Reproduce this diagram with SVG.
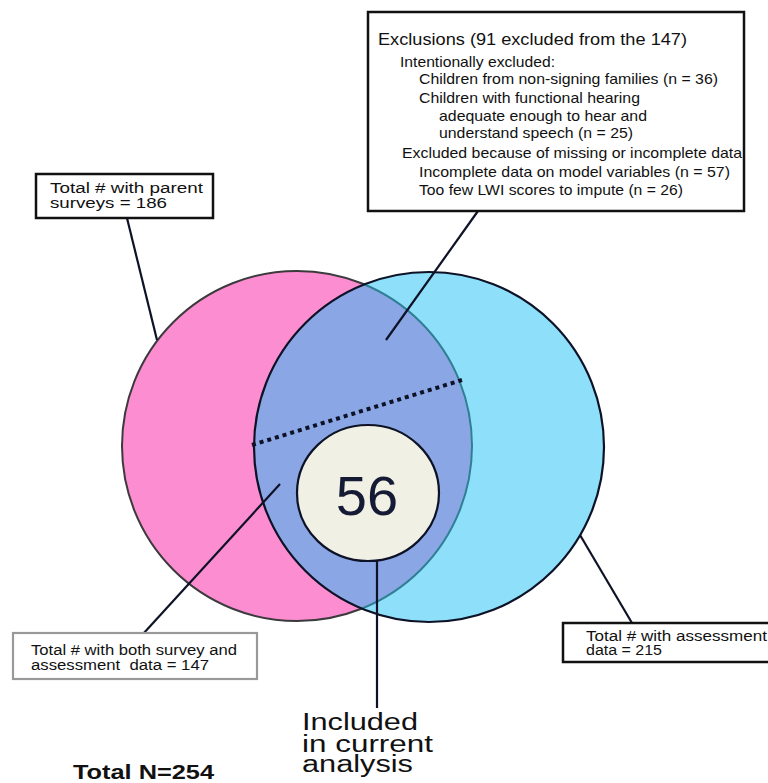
<svg xmlns="http://www.w3.org/2000/svg" width="768" height="783" viewBox="0 0 768 783">
<style>
.t{font-family:"Liberation Sans",Arial,sans-serif;fill:#111;}
.box{fill:#fff;stroke:#111;stroke-width:2.5;}
.conn{stroke:#0d1226;stroke-width:2.2;fill:none;}
</style>
<defs>
<clipPath id="blueClip"><circle cx="429" cy="447" r="175"/></clipPath>
</defs>
<rect width="768" height="783" fill="#fff"/>
<g id="venn">
<circle id="pink" cx="297" cy="446" r="175" fill="#fb8dd0" stroke="#3d3a3e" stroke-width="2"/>
<circle id="blue" cx="429" cy="447" r="175" fill="#8edff9"/>
<circle id="overlap" cx="297" cy="446" r="175" fill="#8aa6e4" stroke="#2f7f95" stroke-width="2" clip-path="url(#blueClip)"/>
<circle cx="429" cy="447" r="175" fill="none" stroke="#0d1226" stroke-width="2.2"/>
<line x1="252" y1="445" x2="462" y2="380" stroke="#0d1226" stroke-width="4" stroke-dasharray="4 4"/>
</g>
<g id="connectors">
<line class="conn" x1="126" y1="214" x2="157" y2="340"/>
<line class="conn" x1="478" y1="211" x2="386" y2="340"/>
<line class="conn" x1="280" y1="484" x2="143" y2="634"/>
<line class="conn" x1="580" y1="535" x2="632" y2="623"/>
<line class="conn" x1="377" y1="535" x2="377" y2="708"/>
</g>
<g id="included">
<ellipse cx="368" cy="493" rx="71" ry="68" fill="#f0f0e4" stroke="#0d1226" stroke-width="2.2"/>
<text class="t" x="367" y="515" font-size="56" text-anchor="middle" style="fill:#161b35">56</text>
</g>
<g id="exclusions">
<rect class="box" x="368" y="12" width="376" height="199"/>
<text class="t" x="378" y="45" font-size="16.5" textLength="309" lengthAdjust="spacingAndGlyphs">Exclusions (91 excluded from the 147)</text>
<text class="t" x="400" y="67" font-size="15" textLength="155" lengthAdjust="spacingAndGlyphs">Intentionally excluded:</text>
<text class="t" x="419" y="84" font-size="15" textLength="299" lengthAdjust="spacingAndGlyphs">Children from non-signing families (n = 36)</text>
<text class="t" x="419" y="103" font-size="15" textLength="221" lengthAdjust="spacingAndGlyphs">Children with functional hearing</text>
<text class="t" x="439" y="121" font-size="15" textLength="208" lengthAdjust="spacingAndGlyphs">adequate enough to hear and</text>
<text class="t" x="439" y="138" font-size="15" textLength="194" lengthAdjust="spacingAndGlyphs">understand speech (n = 25)</text>
<text class="t" x="402" y="158" font-size="15" textLength="340" lengthAdjust="spacingAndGlyphs">Excluded because of missing or incomplete data</text>
<text class="t" x="419" y="177" font-size="15" textLength="311" lengthAdjust="spacingAndGlyphs">Incomplete data on model variables (n = 57)</text>
<text class="t" x="419" y="195" font-size="15" textLength="264" lengthAdjust="spacingAndGlyphs">Too few LWI scores to impute (n = 26)</text>
</g>
<g id="parent-surveys">
<rect class="box" x="36" y="174" width="177" height="44"/>
<text class="t" x="50" y="193" font-size="15.5" textLength="153" lengthAdjust="spacingAndGlyphs">Total # with parent</text>
<text class="t" x="50" y="208" font-size="15.5" textLength="117" lengthAdjust="spacingAndGlyphs">surveys = 186</text>
</g>
<g id="both">
<rect x="13" y="633" width="244" height="46" fill="#fff" stroke="#999" stroke-width="2.2"/>
<text class="t" x="31" y="655" font-size="15.5" textLength="206" lengthAdjust="spacingAndGlyphs">Total # with both survey and</text>
<text class="t" x="31" y="670" font-size="15.5" xml:space="preserve" textLength="178" lengthAdjust="spacingAndGlyphs">assessment  data = 147</text>
</g>
<g id="assessment">
<rect class="box" x="563" y="623" width="220" height="39"/>
<text class="t" x="586" y="641" font-size="15.5" textLength="181" lengthAdjust="spacingAndGlyphs">Total # with assessment</text>
<text class="t" x="586" y="655" font-size="15.5" textLength="76" lengthAdjust="spacingAndGlyphs">data = 215</text>
</g>
<g id="included-label">
<text class="t" x="302" y="730" font-size="23" textLength="116" lengthAdjust="spacingAndGlyphs">Included</text>
<text class="t" x="302" y="752" font-size="23" textLength="131" lengthAdjust="spacingAndGlyphs">in current</text>
<text class="t" x="302" y="772" font-size="23" textLength="111" lengthAdjust="spacingAndGlyphs">analysis</text>
</g>
<g id="total">
<text class="t" x="73" y="779" font-size="20" font-weight="bold" textLength="141" lengthAdjust="spacingAndGlyphs">Total N=254</text>
</g>
</svg>
